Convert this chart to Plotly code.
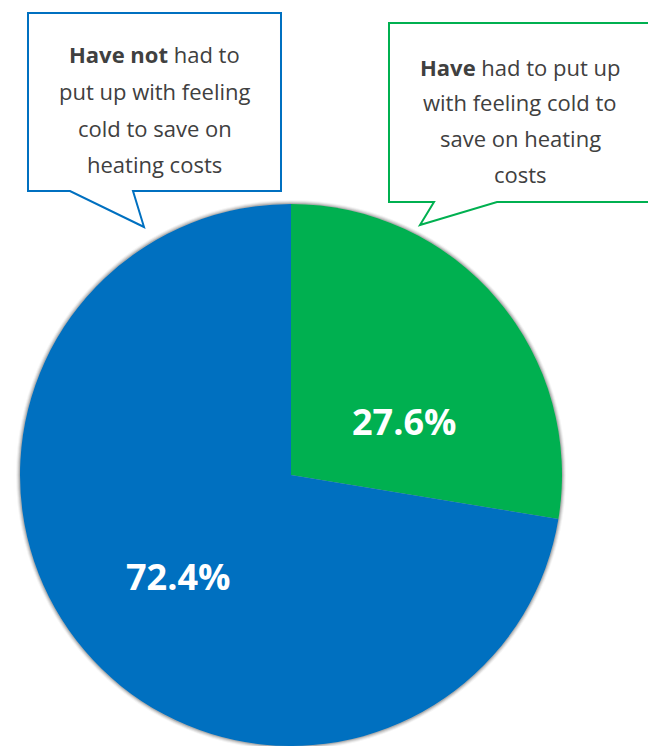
import plotly.graph_objects as go

# ---- data ----
labels = ["Have", "Have not"]
values = [27.6, 72.4]
colors = ["#00B050", "#0070C0"]

callout_have_not = ["<b>Have not</b> had to", "put up with feeling", "cold to save on", "heating costs"]
callout_have = ["<b>Have</b> had to put up", "with feeling cold to", "save on heating", "costs"]

W, H = 648, 746
CX, CY, R = 291, 475, 271
label_pos = [(404, 421), (178, 576)]


def px(x):
    return x / W


def py(y):
    return 1 - y / H


def path(pts):
    return "M " + " L ".join(f"{px(x):.5f},{py(y):.5f}" for x, y in pts) + " Z"


fig = go.Figure()
fig.add_trace(go.Pie(
    labels=labels,
    values=values,
    sort=False,
    direction="clockwise",
    rotation=0,
    marker=dict(colors=colors, line=dict(width=0)),
    textinfo="none",
    hoverinfo="skip",
    showlegend=False,
    domain=dict(x=[px(CX - R), px(CX + R)], y=[max(0, py(CY + R)), py(CY - R)]),
))

shapes = []
# soft shadow around the pie
for dr, op in [(4, 0.04), (3, 0.07), (2, 0.10), (1, 0.14)]:
    shapes.append(dict(type="circle", xref="paper", yref="paper",
                       x0=px(CX - R - dr), x1=px(CX + R + dr),
                       y0=py(CY + R + dr), y1=py(CY - R - dr),
                       fillcolor=f"rgba(0,0,0,{op})", line=dict(width=0), layer="below"))

# callout boxes
shapes.append(dict(type="path", xref="paper", yref="paper",
                   path=path([(28, 13), (281, 13), (281, 191), (133, 191), (144, 227), (70, 191), (28, 191)]),
                   fillcolor="white", line=dict(color="#0070C0", width=2)))
shapes.append(dict(type="path", xref="paper", yref="paper",
                   path=path([(389, 23), (660, 23), (660, 202), (497, 202), (420, 225), (434, 202), (389, 202)]),
                   fillcolor="white", line=dict(color="#00B050", width=2)))

annotations = []
for v, (lx, ly) in zip(values, label_pos):
    annotations.append(dict(text=f"{v:.1f}%", x=px(lx), y=py(ly), xref="paper", yref="paper",
                            xanchor="center", yanchor="middle", showarrow=False,
                            font=dict(family="Open Sans", size=36, color="white", weight="bold")))
for txt, yy in zip(callout_have_not, [54, 91, 128, 164]):
    annotations.append(dict(text=txt, x=px(154.5), y=py(yy), xref="paper", yref="paper",
                            xanchor="center", yanchor="middle", showarrow=False,
                            font=dict(family="Open Sans", size=22, color="#404040")))
for txt, yy in zip(callout_have, [67, 102, 138, 174]):
    annotations.append(dict(text=txt, x=px(520), y=py(yy), xref="paper", yref="paper",
                            xanchor="center", yanchor="middle", showarrow=False,
                            font=dict(family="Open Sans", size=22, color="#404040")))

fig.update_layout(
    width=W, height=H,
    margin=dict(l=0, r=0, t=0, b=0),
    paper_bgcolor="white",
    plot_bgcolor="white",
    shapes=shapes,
    annotations=annotations,
)

fig.write_html(
    "out.html",
    config={"displayModeBar": False},
    post_script="document.body.style.margin='0';document.documentElement.style.overflow='hidden';",
)
